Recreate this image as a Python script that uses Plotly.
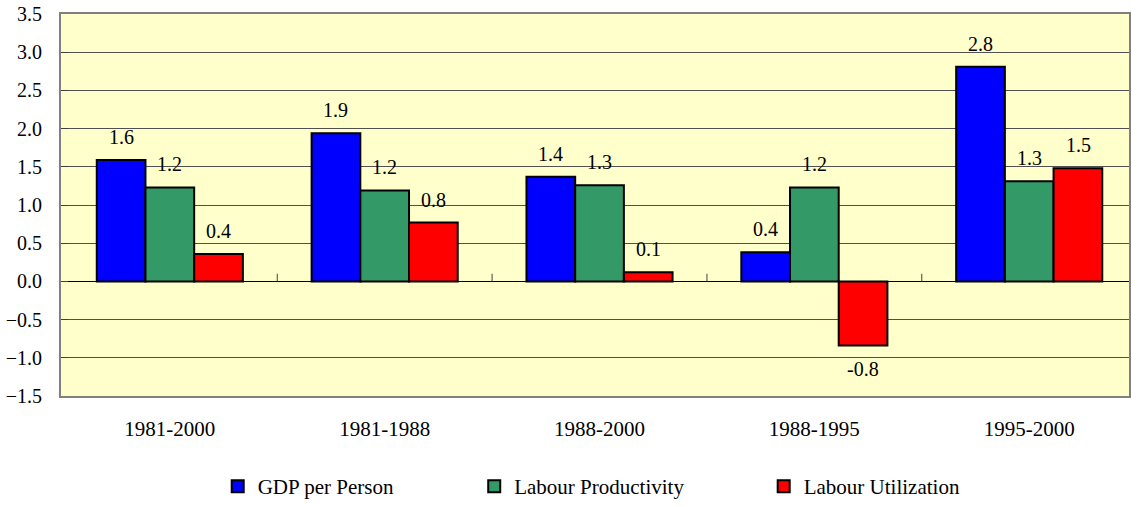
import plotly.graph_objects as go

periods = ["1981-2000", "1981-1988", "1988-2000", "1988-1995", "1995-2000"]
gdp_per_person = [1.59, 1.94, 1.37, 0.38, 2.81]
labour_productivity = [1.23, 1.19, 1.26, 1.23, 1.31]
labour_utilization = [0.36, 0.77, 0.12, -0.84, 1.48]

series = [
    ("GDP per Person", gdp_per_person, "#0000FF"),
    ("Labour Productivity", labour_productivity, "#339966"),
    ("Labour Utilization", labour_utilization, "#FF0000"),
]

W, H = 1131, 507
ml, mr, mt, mb = 61, 0, 14, 110
plot_w = W - ml - mr
plot_h = H - mt - mb
cat_px = 215.25
x0 = -0.5 - 1.4 / cat_px
x_range = [x0, x0 + plot_w / cat_px]
bargap = 0.32
bar_px = cat_px * (1 - bargap) / 3

serif = "Liberation Serif"

fig = go.Figure()
legend_x_px = [218, 475, 765]
for i, (name, vals, col) in enumerate(series):
    lg = "legend" if i == 0 else "legend%d" % (i + 1)
    fig.add_trace(go.Bar(
        x=periods, y=vals, name=name, legend=lg, showlegend=True,
        marker=dict(color=col, line=dict(color="black", width=2)),
    ))
    off = (i - 1) * bar_px
    for p, v in zip(periods, vals):
        fig.add_annotation(
            x=p, y=v, text="%.1f" % v, showarrow=False,
            xshift=off, yshift=10 if v >= 0 else -10,
            yanchor="bottom" if v >= 0 else "top",
            font=dict(family=serif, size=20, color="black"),
        )

# category tick marks on the zero line
for k in range(len(periods) - 1):
    fig.add_shape(type="line", xref="x", yref="y", x0=k + 0.5, x1=k + 0.5,
                  y0=0, y1=0.1, line=dict(color="#404040", width=1))

legends = {}
for i, px in enumerate(legend_x_px):
    key = "legend" if i == 0 else "legend%d" % (i + 1)
    legends[key] = dict(
        x=(px - ml) / plot_w, xanchor="left",
        y=(H - mb - 488) / plot_h, yanchor="middle",
        orientation="h", bgcolor="rgba(0,0,0,0)",
        font=dict(family=serif, size=21, color="black"),
        itemwidth=30,
    )

fig.update_layout(
    width=W, height=H,
    margin=dict(l=ml, r=mr, t=mt, b=mb),
    paper_bgcolor="white",
    plot_bgcolor="#FFFFCC",
    barmode="group",
    bargap=bargap,
    bargroupgap=0,
    showlegend=True,
    font=dict(family=serif, size=20, color="black"),
    **legends,
)

fig.update_xaxes(
    range=x_range, showgrid=False, ticks="", ticklabelstandoff=13,
    showline=True, linecolor="#808080", linewidth=2, mirror=True,
    tickfont=dict(family=serif, size=21),
)
fig.update_yaxes(
    range=[-1.5, 3.5], dtick=0.5, tickformat=".1f",
    showgrid=True, gridcolor="#505050", gridwidth=1,
    zeroline=True, zerolinecolor="black", zerolinewidth=1,
    showline=True, linecolor="#808080", linewidth=2, mirror=True,
    ticks="inside", ticklen=7, tickcolor="#404040", ticklabelstandoff=13,
    tickfont=dict(family=serif, size=20),
)

fig.write_html(
    "out.html",
    config={"displayModeBar": False},
    post_script="document.body.style.margin='0';document.body.style.overflow='hidden';",
)
